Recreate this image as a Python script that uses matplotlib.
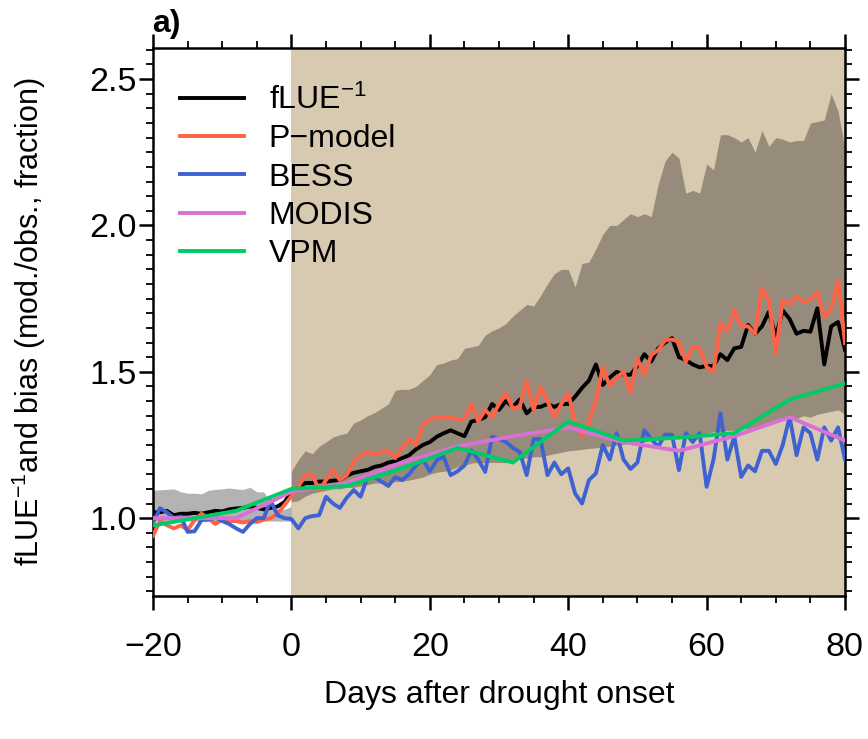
import matplotlib
matplotlib.use("Agg")
import matplotlib.pyplot as plt
import numpy as np
from matplotlib.ticker import MultipleLocator

plt.rcParams['font.family'] = ['Liberation Sans', 'DejaVu Sans']
plt.rcParams['mathtext.fontset'] = 'custom'
plt.rcParams['mathtext.rm'] = 'Liberation Sans'
plt.rcParams['mathtext.it'] = 'Liberation Sans:italic'

days = np.arange(-20, 81)
days_pre = np.arange(-20, 1)
days_post = np.arange(0, 81)
days_8d = [-20, -8, 0, 8, 16, 24, 32, 40, 48, 56, 64, 72, 80]

flue = [1.02, 1.02, 1.025, 1.01, 1.015, 1.015, 1.018, 1.015, 1.02, 1.025,
        1.023, 1.03, 1.033, 1.035, 1.04, 1.035, 1.03, 1.035, 1.04, 1.055,
        1.09, 1.105, 1.12, 1.12, 1.125, 1.125, 1.128, 1.13, 1.145, 1.155,
        1.16, 1.165, 1.175, 1.18, 1.19, 1.195, 1.205, 1.215, 1.235, 1.25,
        1.26, 1.278, 1.29, 1.30, 1.29, 1.28, 1.33, 1.335, 1.345, 1.39,
        1.37, 1.40, 1.38, 1.405, 1.358, 1.38, 1.38, 1.39, 1.38, 1.39,
        1.39, 1.415, 1.445, 1.47, 1.525, 1.455, 1.48, 1.50, 1.49, 1.49,
        1.52, 1.56, 1.535, 1.58, 1.60, 1.615, 1.55, 1.54, 1.525, 1.515,
        1.52, 1.52, 1.56, 1.54, 1.58, 1.585, 1.66, 1.63, 1.655, 1.705,
        1.62, 1.71, 1.68, 1.63, 1.64, 1.637, 1.717, 1.525, 1.655, 1.67, 1.575]

pmodel = [0.94, 0.99, 0.976, 0.965, 0.975, 0.96, 0.993, 1.015, 1.0, 0.98,
          0.995, 0.99, 0.99, 0.985, 0.99, 0.987, 0.995, 1.0, 1.015, 1.045,
          1.075, 1.107, 1.147, 1.15, 1.096, 1.13, 1.164, 1.13, 1.147, 1.192,
          1.215, 1.225, 1.22, 1.225, 1.23, 1.205, 1.24, 1.27, 1.25, 1.32,
          1.335, 1.346, 1.345, 1.345, 1.335, 1.34, 1.39, 1.33, 1.37, 1.345,
          1.39, 1.427, 1.375, 1.38, 1.47, 1.37, 1.449, 1.40, 1.346, 1.39,
          1.427, 1.33, 1.278, 1.33, 1.40, 1.517, 1.45, 1.48, 1.50, 1.43,
          1.546, 1.49, 1.557, 1.574, 1.608, 1.61, 1.603, 1.534, 1.585, 1.58,
          1.517, 1.50, 1.666, 1.64, 1.71, 1.655, 1.655, 1.63, 1.785, 1.745,
          1.563, 1.745, 1.73, 1.757, 1.74, 1.745, 1.773, 1.688, 1.716, 1.813, 1.598]

bess = [0.983, 1.034, 1.02, 1.0, 1.005, 0.953, 0.955, 0.993, 0.995, 1.003,
        0.99, 0.98, 0.965, 0.953, 0.98, 1.0, 1.0, 1.06, 1.01, 1.0,
        0.997, 0.965, 1.0, 1.007, 1.01, 1.073, 1.05, 1.035, 1.07, 1.096,
        1.073, 1.141, 1.14, 1.125, 1.11, 1.14, 1.13, 1.15, 1.18, 1.2,
        1.16, 1.198, 1.21, 1.147, 1.16, 1.18, 1.232, 1.2, 1.158, 1.278,
        1.27, 1.26, 1.24, 1.226, 1.147, 1.27, 1.27, 1.147, 1.19, 1.15,
        1.17, 1.084, 1.05, 1.13, 1.153, 1.25, 1.2, 1.29, 1.2, 1.168,
        1.19, 1.30, 1.27, 1.244, 1.285, 1.285, 1.164, 1.29, 1.26, 1.29,
        1.107, 1.2, 1.358, 1.2, 1.28, 1.141, 1.18, 1.16, 1.23, 1.23,
        1.185, 1.25, 1.346, 1.215, 1.31, 1.29, 1.2, 1.31, 1.265, 1.31, 1.2]

modis = [1.0, 1.0, 1.09, 1.12, 1.19, 1.245, 1.28, 1.31, 1.26, 1.23, 1.28, 1.345, 1.265]
vpm = [0.975, 1.025, 1.10, 1.11, 1.17, 1.24, 1.19, 1.33, 1.265, 1.275, 1.29, 1.405, 1.46]

# spread before onset (grey) and after onset (dark)
pre_hi = [1.095, 1.097, 1.098, 1.10, 1.09, 1.085, 1.085, 1.083, 1.095, 1.098,
          1.10, 1.103, 1.10, 1.098, 1.105, 1.09, 1.09, 1.05, 1.03, 1.03, 1.04]
pre_lo = [0.99] * 21

post_hi = [1.16, 1.20, 1.23, 1.22, 1.245, 1.26, 1.277, 1.285, 1.29, 1.325,
           1.335, 1.35, 1.36, 1.375, 1.39, 1.437, 1.44, 1.44, 1.45, 1.47,
           1.49, 1.525, 1.53, 1.54, 1.545, 1.58, 1.585, 1.59, 1.625, 1.64,
           1.65, 1.665, 1.69, 1.71, 1.73, 1.725, 1.76, 1.80, 1.835, 1.85,
           1.85, 1.79, 1.87, 1.875, 1.92, 1.97, 2.0, 2.0, 2.02, 2.04,
           2.03, 2.04, 2.03, 2.14, 2.22, 2.25, 2.23, 2.11, 2.12, 2.11,
           2.21, 2.19, 2.31, 2.31, 2.30, 2.285, 2.30, 2.25, 2.325, 2.27,
           2.30, 2.295, 2.285, 2.29, 2.29, 2.35, 2.355, 2.36, 2.45, 2.39, 2.26]
post_lo = [1.055, 1.06, 1.075, 1.085, 1.09, 1.095, 1.10, 1.10, 1.105, 1.105,
           1.11, 1.115, 1.12, 1.12, 1.12, 1.125, 1.125, 1.13, 1.135, 1.14,
           1.15, 1.157, 1.16, 1.165, 1.175, 1.18, 1.188, 1.19, 1.19, 1.19,
           1.19, 1.19, 1.195, 1.205, 1.205, 1.21, 1.21, 1.215, 1.22, 1.225,
           1.23, 1.232, 1.235, 1.238, 1.24, 1.243, 1.245, 1.25, 1.252, 1.255,
           1.26, 1.26, 1.265, 1.265, 1.27, 1.27, 1.275, 1.28, 1.283, 1.287,
           1.29, 1.295, 1.295, 1.30, 1.30, 1.305, 1.305, 1.31, 1.315, 1.325,
           1.33, 1.335, 1.34, 1.34, 1.35, 1.345, 1.355, 1.36, 1.365, 1.37, 1.355]

fig = plt.figure(figsize=(8.68, 7.39), dpi=100)
ax = fig.add_axes([0.1763, 0.1935, 0.7972, 0.7415])

ax.axvspan(0, 80, color='#d8cab0', lw=0, zorder=0)
ax.fill_between(days_pre, pre_lo, pre_hi, color='#b3b3b3', lw=0, zorder=1)
ax.fill_between(days_post, post_lo, post_hi, color='#978c7b', lw=0, zorder=1)

lw = 2.8
ax.plot(days, flue, color='black', lw=lw, label=r'fLUE$^{-1}$', zorder=3)
ax.plot(days, pmodel, color='#ff6347', lw=lw, label='P\u2212model', zorder=3)
ax.plot(days, bess, color='#3f62d2', lw=lw, label='BESS', zorder=3)
ax.plot(days_8d, modis, color='#da70d6', lw=lw, label='MODIS', zorder=3)
ax.plot(days_8d, vpm, color='#00cc66', lw=lw, label='VPM', zorder=3)

ax.set_xlim(-20, 80)
ax.set_ylim(0.734, 2.606)
ax.set_xticks([-20, 0, 20, 40, 60, 80])
ax.set_xticklabels(['\u221220', '0', '20', '40', '60', '80'])
ax.set_yticks([1.0, 1.5, 2.0, 2.5])
ax.xaxis.set_minor_locator(MultipleLocator(5))
ax.yaxis.set_minor_locator(MultipleLocator(0.05))
ax.tick_params(which='both', direction='out', top=True, right=True,
               labelsize=24.5, width=1.8)
ax.tick_params(which='major', length=10)
ax.tick_params(which='minor', length=5, width=1.3)
ax.tick_params(axis='x', which='major', pad=16)
ax.tick_params(axis='y', which='major', pad=1.5)
for s in ax.spines.values():
    s.set_linewidth(1.8)

ax.set_xlabel('Days after drought onset', fontsize=23, labelpad=12)
ax.set_ylabel(r'fLUE$^{-1}$and bias (mod./obs., fraction)', fontsize=22, labelpad=30)
fig.text(0.175, 1 - 32 / 739, 'a)', fontsize=23, fontweight='bold',
         va='baseline', ha='left')

ax.legend(loc='upper left', bbox_to_anchor=(0.039, 0.933), frameon=False,
          fontsize=23, handlelength=2.0, handletextpad=0.78,
          labelspacing=0.26, borderaxespad=0, borderpad=0)

fig.savefig('out.png', dpi=100)
